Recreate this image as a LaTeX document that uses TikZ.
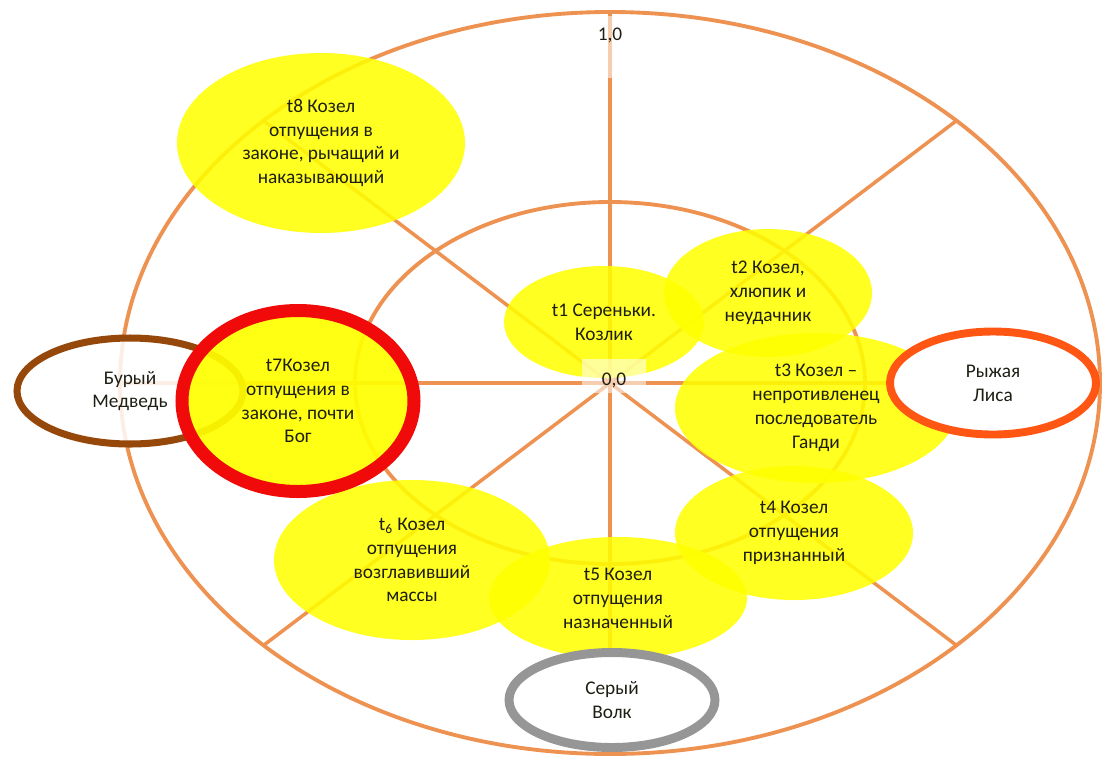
\documentclass[tikz,border=0pt]{standalone}
\usepackage{fontspec}
\setmainfont{Carlito}
\usepackage{xcolor}
\usepackage{tikz}
\usetikzlibrary{positioning,shapes.geometric,calc}

\definecolor{gridorange}{RGB}{238,146,82}
\definecolor{bearbrown}{RGB}{150,72,10}
\definecolor{foxorange}{RGB}{255,86,20}
\definecolor{wolfgray}{RGB}{150,150,150}
\definecolor{godred}{RGB}{240,10,10}
\definecolor{goatyellow}{RGB}{255,255,0}
\definecolor{labeltext}{RGB}{30,30,20}

\begin{document}
\begin{tikzpicture}[x=0.02cm, y=-0.02cm,
  every node/.style={font=\fontsize{11}{13.6}\selectfont, text=labeltext, align=center},
  gridline/.style={gridorange, line width=2.2pt},
  goat/.style={ellipse, inner sep=0pt, fill=goatyellow, fill opacity=0.87, text opacity=1},
  beast/.style={ellipse, inner sep=0pt, fill=white, text opacity=1},
  axislabel/.style={fill=white, fill opacity=0.55, text opacity=1, anchor=base}]
\def\pxu{0.02cm}
\useasboundingbox (0,0) rectangle (1108,758);
\coordinate (O) at (610,383);

% Grid
\draw[gridline] (O) ellipse [x radius=490, y radius=371];
\draw[gridline] (O) ellipse [x radius=255, y radius=181];
\foreach \a in {0,45,...,315}
  \draw[gridline, line width=2pt] (O) -- ++({490*cos(\a)},{-371*sin(\a)});

% Scale label
\node[axislabel, text height={18*\pxu}, text depth={32*\pxu}] (one) at (610,40) {1,0};

% Brown bear
\node[beast, fill opacity=0.85, draw=bearbrown, draw opacity=1, line width=4pt,
  minimum width={226*\pxu}, minimum height={106*\pxu}] (bear) at (130,391) {Бурый\\Медведь};

% Goats
\node[goat, minimum width={288*\pxu}, minimum height={180*\pxu}] (t8) at (321,143)
  {t8 Козел\\отпущения в\\законе, рычащий и\\наказывающий};
\node[goat, minimum width={200*\pxu}, minimum height={112*\pxu}] (t1) at (604,322)
  {t1 Сереньки.\\Козлик};
\node[goat, minimum width={208*\pxu}, minimum height={128*\pxu}] (t2) at (768,293)
  {t2 Козел,\\хлюпик и\\неудачник};
\node[goat, minimum width={282*\pxu}, minimum height={150*\pxu}] (t3) at (816,408)
  {t3 Козел –\\непротивленец\\последователь\\Ганди};
\node[goat, minimum width={238*\pxu}, minimum height={134*\pxu}] (t4) at (794,533)
  {t4 Козел\\отпущения\\признанный};
\node[goat, minimum width={276*\pxu}, minimum height={160*\pxu}] (t6) at (412,560)
  {t\textsubscript{6} Козел\\отпущения\\возглавивший\\массы};
\node[goat, minimum width={258*\pxu}, minimum height={122*\pxu}] (t5) at (618,598)
  {t5 Козел\\отпущения\\назначенный};
\node[goat, fill opacity=0.92, draw=godred, draw opacity=1, line width=7.4pt,
  minimum width={232*\pxu}, minimum height={181*\pxu}] (t7) at (298,401)
  {t7Козел\\отпущения в\\законе, почти\\Бог};

% Fox and wolf
\node[beast, draw=foxorange, line width=4.5pt,
  minimum width={206*\pxu}, minimum height={103*\pxu}] (fox) at (993,383) {Рыжая\\Лиса};
\node[beast, draw=wolfgray, line width=5.1pt,
  minimum width={206*\pxu}, minimum height={95*\pxu}] (wolf) at (612,700) {Серый\\Волк};

% Origin label
\node[axislabel, minimum width={64*\pxu}, text height={20*\pxu}] (zero) at (614,385) {0,0};

\end{tikzpicture}
\end{document}
